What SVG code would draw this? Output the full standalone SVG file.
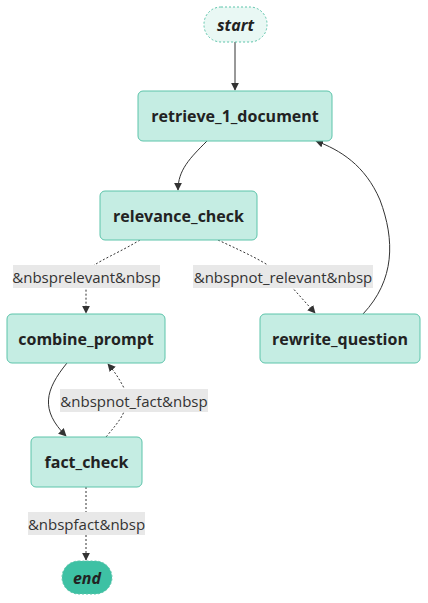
<svg xmlns="http://www.w3.org/2000/svg" width="428" height="603" viewBox="0 0 428 603">
<style>
.node rect{fill:#c5ede3;stroke:#5cc4aa;stroke-width:1}
.nt{font-family:"Open Sans","Liberation Sans",sans-serif;font-weight:bold;font-size:16px;fill:#222;text-anchor:middle;dominant-baseline:central}
.it{font-style:italic}
.lbg{fill:#e8e8e8}
.lt{font-family:"Open Sans","Liberation Sans",sans-serif;font-size:15px;fill:#333;text-anchor:middle;dominant-baseline:central}
.e{fill:none;stroke:#333;stroke-width:1}
.d{stroke-dasharray:2 2}
</style>
<defs>
<marker id="ah" viewBox="0 0 10 10" refX="9" refY="5" markerWidth="8" markerHeight="8" orient="auto" markerUnits="userSpaceOnUse">
<path d="M0,0 L10,5 L0,10 z" fill="#333"/>
</marker>
</defs>
<rect width="428" height="603" fill="#fff"/>
<g id="edges">
<path class="e" d="M235,42 L235,90" marker-end="url(#ah)"/>
<path class="e" d="M207,141 C190,158 178,170 178,190" marker-end="url(#ah)"/>
<path class="e d" d="M140,240 C110,258 86,265 86,276 L86,313" marker-end="url(#ah)"/>
<path class="e d" d="M218,240 C250,255 280,268 290,285 L315,313" marker-end="url(#ah)"/>
<path class="e" d="M363,314 C395,280 395,240 380,200 C365,165 340,150 316,141" marker-end="url(#ah)"/>
<path class="e" d="M67,363 C45,390 40,410 66,436" marker-end="url(#ah)"/>
<path class="e d" d="M106,437 C120,420 130,410 125,390 C120,380 115,372 108,364" marker-end="url(#ah)"/>
<path class="e d" d="M86,487 L86,560" marker-end="url(#ah)"/>
</g>
<g id="labels">
<rect class="lbg" x="13" y="265" width="147" height="23"/>
<text class="lt" x="86.5" y="276.5">&amp;nbsprelevant&amp;nbsp</text>
<rect class="lbg" x="193" y="265" width="180" height="23"/>
<text class="lt" x="283" y="276.5">&amp;nbspnot_relevant&amp;nbsp</text>
<rect class="lbg" x="60" y="389" width="148" height="23"/>
<text class="lt" x="134" y="400.5">&amp;nbspnot_fact&amp;nbsp</text>
<rect class="lbg" x="28" y="512" width="117" height="23"/>
<text class="lt" x="86.5" y="523.5">&amp;nbspfact&amp;nbsp</text>
</g>
<g id="start">
<rect x="204" y="7" width="63" height="35" rx="17" fill="#e9f8f4" stroke="#5cc4aa" stroke-dasharray="2 2"/>
<text class="nt it" x="235.5" y="24.5">start</text>
</g>
<g id="retrieve_1_document" class="node">
<rect x="138" y="91" width="194" height="50" rx="5"/>
<text class="nt" x="235" y="116">retrieve_1_document</text>
</g>
<g id="relevance_check" class="node">
<rect x="100" y="191" width="157" height="49" rx="5"/>
<text class="nt" x="178.5" y="215.5">relevance_check</text>
</g>
<g id="combine_prompt" class="node">
<rect x="7" y="314" width="158" height="49" rx="5"/>
<text class="nt" x="86" y="338.5">combine_prompt</text>
</g>
<g id="rewrite_question" class="node">
<rect x="260" y="314" width="160" height="49" rx="5"/>
<text class="nt" x="340" y="338.5">rewrite_question</text>
</g>
<g id="fact_check" class="node">
<rect x="31" y="437" width="111" height="50" rx="5"/>
<text class="nt" x="86.5" y="462">fact_check</text>
</g>
<g id="end">
<rect x="62" y="561" width="50" height="33" rx="16.5" fill="#3ec1a4" stroke="#5cc4aa" stroke-dasharray="2 2"/>
<text class="nt it" x="87" y="577.5">end</text>
</g>
</svg>
